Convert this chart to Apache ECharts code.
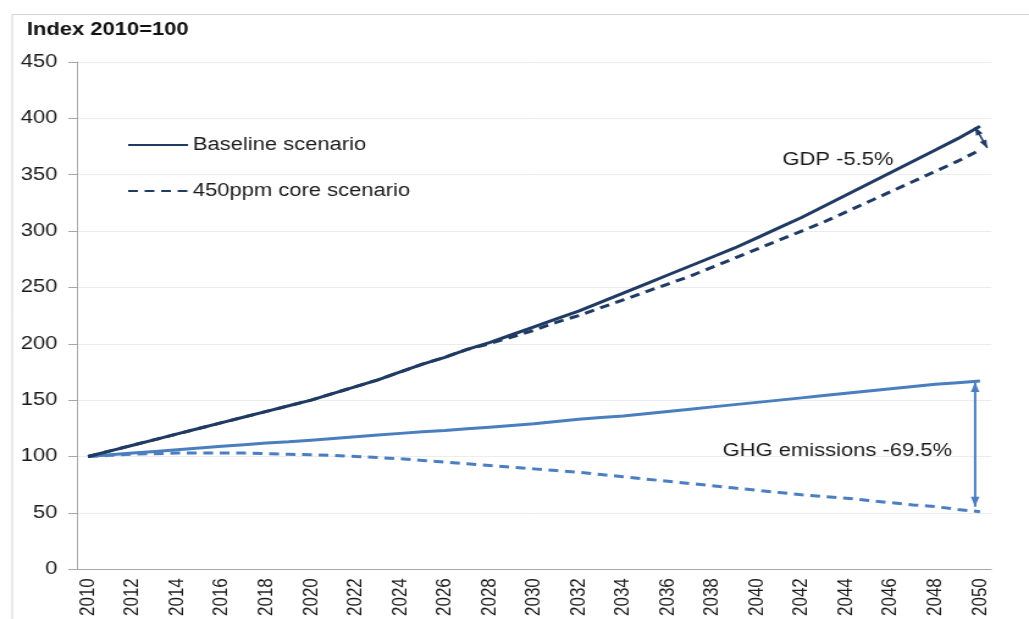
<!DOCTYPE html>
<html>
<head>
<meta charset="utf-8">
<script src="https://cdn.jsdelivr.net/npm/echarts@6/dist/echarts.min.js"></script>
<style>
html,body{margin:0;padding:0;background:#fff;overflow:hidden}
#wrap{width:1029px;height:619px;overflow:hidden;position:relative}
#c{width:843px;height:619px;transform:scaleX(1.2206);transform-origin:0 0;position:absolute;left:0;top:0}
</style>
</head>
<body>
<div id="wrap"><div id="c"></div></div>
<script>
const years = [];
for (let y = 2010; y <= 2050; y++) years.push(String(y));

const gdpBaseline = [100,105,110,115,120,125,130,135,140,145,150,156,162,168,175,182,188,195,201,208,215,222,229,237,245,253,261,269,277,285,294,303,312,322,332,342,352,362,372,382,393];
const gdp450 = [100,105,110,115,120,125,130,135,140,145,150,156,162,168,175,182,188,195,200,206,212,219,225,232,239,246,253,260,268,276,284,292,300,308,317,326,335,344,353,362,372];
const ghgBaseline = [100,101.5,103,104.5,106,107.5,109,110.5,112,113,114.5,116,117.5,119,120.5,122,123,124.5,126,127.5,129,131,133,134.5,136,138,140,142,144,146,148,150,152,154,156,158,160,162,164,165.5,167];
const ghg450 = [100,101,102,102.5,103,103,103,103,102.5,102,101.5,101,100,99,98,96.5,95,93.5,92,90.5,89,87.5,86,84,82,80,78,76,74,72,70,68,66,64.5,63,61,59,57,55.5,53,51];

const yTicks = {min: 0, max: 450, interval: 50};
const legendNames = ['Baseline scenario', '450ppm core scenario'];
const notes = ['GDP -5.5%', 'GHG emissions -69.5%'];

const NAVY = '#1f3a63';
const BLUE = '#4a7ebf';
const FONT = 'Liberation Sans, Arial, sans-serif';
const TXT = '#1a1a1a';
const DASH = [8, 5.5];

const chart = echarts.init(document.getElementById('c'), null, {renderer: 'canvas', width: 843, height: 619});

const border = {type: 'rect', shape: {x: 10, y: 14.5, width: 900, height: 640}, style: {fill: 'none', stroke: '#d4d4d4', lineWidth: 1}, silent: true, z: -10};

const option = {
  animation: false,
  backgroundColor: '#fff',
  textStyle: {fontFamily: FONT},
  title: {
    text: 'Index 2010=100', left: 22, top: 21, padding: 0,
    textStyle: {fontFamily: FONT, fontSize: 18, fontWeight: 'bold', color: '#111'}
  },
  legend: {
    data: legendNames,
    orient: 'vertical', left: 104, top: 136, padding: 0,
    itemWidth: 49, itemHeight: 14, itemGap: 28,
    itemStyle: {opacity: 0},
    textStyle: {fontFamily: FONT, fontSize: 18, color: TXT, padding: [0, 0, 0, -1]}
  },
  grid: {left: 63, right: 31, top: 62, bottom: 48, containLabel: false},
  xAxis: {
    type: 'category', data: years, boundaryGap: true,
    axisLine: {lineStyle: {color: '#a6a6a6', width: 1}},
    axisTick: {interval: 0, length: 5, lineStyle: {color: '#a6a6a6'}},
    axisLabel: {interval: 1, rotate: 90, fontSize: 17, color: TXT, margin: 9, fontFamily: FONT},
    splitLine: {show: false}
  },
  yAxis: {
    type: 'value', min: yTicks.min, max: yTicks.max, interval: yTicks.interval,
    axisLine: {show: true, lineStyle: {color: '#a6a6a6', width: 1}},
    axisTick: {show: true, length: 7, lineStyle: {color: '#a6a6a6'}},
    axisLabel: {fontSize: 18, color: TXT, margin: 16, fontFamily: FONT},
    splitLine: {lineStyle: {color: '#ececec', width: 1}}
  },
  series: [
    {name: legendNames[0], type: 'line', data: gdpBaseline, symbol: 'none', showSymbol: false, z: 4,
      lineStyle: {color: NAVY, width: 3}, itemStyle: {color: NAVY}},
    {name: legendNames[1], type: 'line', data: gdp450, symbol: 'none', showSymbol: false, z: 3,
      lineStyle: {color: NAVY, width: 3, type: DASH}, itemStyle: {color: NAVY}},
    {name: 'GHG baseline', type: 'line', data: ghgBaseline, symbol: 'none', z: 2,
      lineStyle: {color: BLUE, width: 3}, itemStyle: {color: BLUE}},
    {name: 'GHG 450ppm', type: 'line', data: ghg450, symbol: 'none', z: 2,
      lineStyle: {color: BLUE, width: 3, type: DASH}, itemStyle: {color: BLUE}}
  ],
  graphic: [border]
};
chart.setOption(option);

// annotations anchored to data coordinates
const last = years.length - 1;
const pG1 = chart.convertToPixel({gridIndex: 0}, [years[last], gdpBaseline[last]]);
const pG2 = chart.convertToPixel({gridIndex: 0}, [years[last], gdp450[last]]);
const pH1 = chart.convertToPixel({gridIndex: 0}, [years[last], ghgBaseline[last]]);
const pH2 = chart.convertToPixel({gridIndex: 0}, [years[last], ghg450[last]]);

function arrowHead(tip, from, color, size, width) {
  const dx = tip[0] - from[0], dy = tip[1] - from[1];
  const len = Math.hypot(dx, dy);
  const ux = dx / len, uy = dy / len;
  const bx = tip[0] - ux * size, by = tip[1] - uy * size;
  const w = width / 2;
  return {type: 'polygon', z: 10, silent: true,
    shape: {points: [tip, [bx - uy * w, by + ux * w], [bx + uy * w, by - ux * w]]},
    style: {fill: color}};
}

const gA = [pG1[0] - 4, pG1[1] + 1];
const gB = [pG2[0] + 6, pG2[1] - 2];
const hA = [pH1[0] - 4, pH1[1] + 1];
const hB = [pH1[0] - 4, pH2[1] - 5];

chart.setOption({
  graphic: [
    border,
    {type: 'line', z: 10, silent: true, shape: {x1: gA[0], y1: gA[1], x2: gB[0], y2: gB[1]}, style: {stroke: NAVY, lineWidth: 1.6}},
    arrowHead(gA, gB, NAVY, 8, 6),
    arrowHead(gB, gA, NAVY, 8, 6),
    {type: 'line', z: 10, silent: true, shape: {x1: hA[0], y1: hA[1], x2: hB[0], y2: hB[1]}, style: {stroke: BLUE, lineWidth: 2}},
    arrowHead(hA, hB, BLUE, 10, 7),
    arrowHead(hB, hA, BLUE, 10, 7),
    {type: 'text', z: 10, silent: true, x: 641, y: 160, style: {text: notes[0], fontFamily: FONT, fontSize: 18, fill: TXT, verticalAlign: 'middle'}},
    {type: 'text', z: 10, silent: true, x: 592, y: 451, style: {text: notes[1], fontFamily: FONT, fontSize: 18, fill: TXT, verticalAlign: 'middle'}}
  ]
});
</script>
</body>
</html>
